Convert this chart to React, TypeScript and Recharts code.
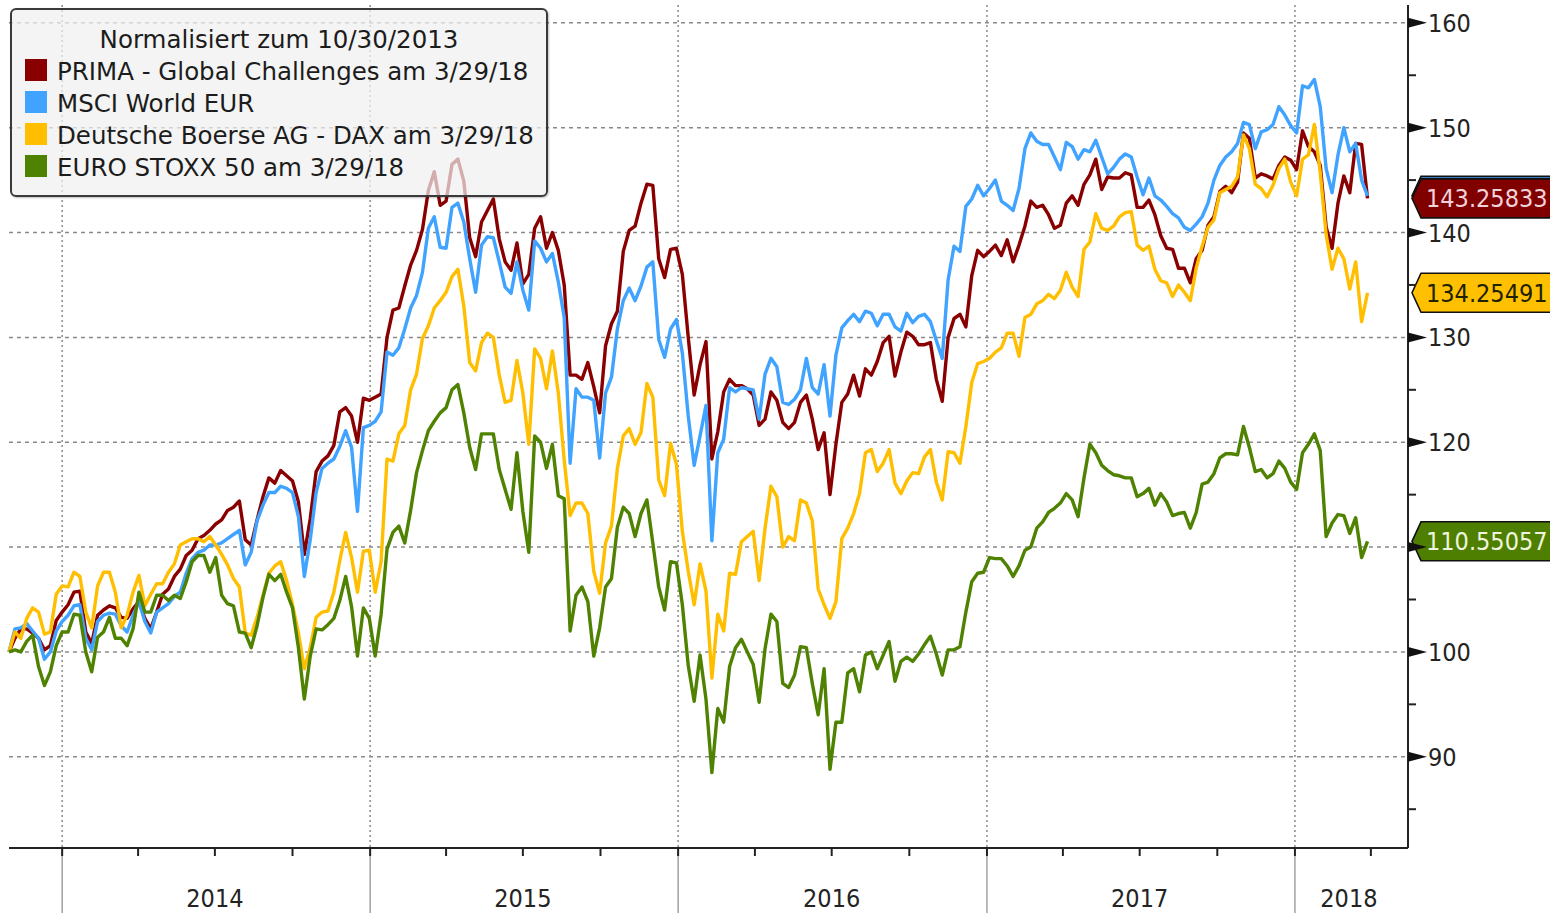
import React from "react";
import {
  LineChart,
  Line,
  XAxis,
  YAxis,
  CartesianGrid,
  ReferenceLine,
  Legend,
} from "recharts";

// one point every 7 days from the normalisation date 10/30/2013
const START = Date.UTC(2013, 9, 30);
const dayOf = (iso: string) => Math.round((Date.parse(iso) - START) / 86400000);
const STEP_DAYS = 7;

const prima = [
  100, 101.3, 102.2, 102.2, 101.8, 101.3, 100.2, 100.6, 103, 103.8, 104.5, 105.7, 105.8, 101.9, 100.8, 103.5, 104, 104.4, 104.2, 103.3,
  103.2, 104.1, 104.8, 103.2, 102.2, 103.8, 105.5, 106, 107.2, 107.9, 109.2, 109.7, 110.8, 111.1, 111.6, 112.2, 112.6, 113.5, 113.8, 114.4,
  110.7, 110.2, 112.6, 114.8, 116.6, 116.1, 117.3, 116.8, 116.3, 114.3, 109.3, 112.7, 117.2, 118.2, 118.7, 119.7, 122.9, 123.3, 122.5, 120,
  124.2, 124, 124.3, 124.6, 130, 132.6, 132.8, 134.9, 136.9, 138.3, 140.3, 144, 145.8, 142.6, 143, 146.5, 147, 144.9, 139.5, 137.7,
  141, 142.1, 143.2, 139.4, 137.2, 136.4, 139, 135.1, 136, 140.4, 141.5, 138.5, 140, 138.3, 135, 126.4, 126.4, 126, 127.6, 125.3,
  122.8, 129.2, 131.3, 132.5, 138.2, 140.2, 140.6, 142.8, 144.6, 144.5, 137.5, 135.7, 138.4, 138.5, 136, 130, 124.5, 127.4, 129.6, 118.4,
  121, 124.8, 126, 125.4, 125.4, 125.1, 124.5, 121.6, 122.2, 124.8, 124, 121.9, 121.3, 121.9, 123.8, 124.5, 122.2, 119.3, 120.9, 115,
  119.8, 123.8, 124.6, 126.4, 124.4, 127, 126.4, 127.7, 129.5, 130.1, 126.3, 128.6, 130.5, 130.1, 129.3, 129.3, 129.5, 126, 123.9, 130,
  131.8, 132.2, 131, 135.9, 138.3, 137.7, 138.2, 138.8, 137.8, 139.3, 137.2, 138.8, 140.6, 143, 142.4, 142.6, 141.7, 140.4, 140.7, 142.8,
  143.5, 142.6, 144.6, 145.5, 147, 144.1, 145.3, 145.2, 145.2, 145.7, 145.5, 142.4, 142.4, 143.1, 141.7, 139.7, 138.5, 138.4, 136.6, 136.6,
  135.2, 137.5, 138.3, 140.7, 141.5, 143.9, 144.4, 143.8, 144.8, 149.5, 149, 145.2, 145.6, 145.4, 145.1, 146.4, 147.2, 146.9, 146, 149.7,
  148.2, 147.7, 146.4, 140.5, 138.5, 142.8, 145.4, 143.8, 148.5, 148.4, 143.26,
];

const msci = [
  100, 102.2, 102.3, 102.7, 102, 101.3, 99.3, 100, 102, 102.9, 103.5, 104.4, 104.5, 101.3, 100.2, 102.9, 103.5, 103.7, 103.6, 102.5,
  101.9, 103.5, 104.8, 102.9, 101.8, 103.8, 104.2, 104.6, 105.3, 105.7, 107.5, 108.9, 109.5, 109.7, 110.2, 110.2, 110.4, 110.8, 111.2, 111.6,
  108.3, 109.5, 112.5, 114, 115.2, 115.2, 115.8, 115.6, 115.2, 112.9, 107.2, 110.7, 115.2, 117.5, 118, 118.4, 119.6, 121.1, 119.5, 113.4,
  121.4, 121.6, 122, 122.9, 128.6, 128.3, 129, 130.8, 132.8, 134, 136.2, 140.4, 141.5, 138.6, 138.5, 142.4, 142.8, 141, 137.5, 134.3,
  138.8, 139.6, 139.5, 137.2, 134.8, 134.2, 137.2, 134.5, 132.6, 139.2, 138.5, 137.2, 138, 135.3, 131.9, 118, 125.1, 124.3, 124.3, 124,
  118.5, 124.7, 126.2, 130.8, 133.5, 134.7, 133.5, 134.9, 136.7, 137.2, 129.8, 128.1, 130.8, 131.7, 128.5, 122.5, 117.8, 120.6, 123.5, 110.6,
  119, 120.3, 125.2, 124.8, 125.2, 125.1, 125, 122.2, 126.5, 128, 127.2, 123.8, 123.6, 124.1, 125, 128, 125.2, 124.6, 127.4, 122.5,
  128.3, 130.9, 131.6, 132.2, 131.5, 132.5, 132.3, 131.1, 132.2, 132.2, 131, 130.6, 132.3, 131.4, 132, 132.2, 131.5, 129.7, 128, 135.5,
  138.7, 138.2, 142.5, 143.2, 144.5, 143.5, 144.2, 145, 143, 142.6, 142.1, 144.2, 148, 149.5, 148.7, 148.4, 148.4, 147.2, 146, 148.6,
  148.2, 147, 147.9, 147.7, 148.8, 147.2, 145.6, 146.2, 147, 147.5, 147.2, 145.3, 143.6, 145.2, 143.5, 143.1, 142.5, 141.8, 141.4, 140.5,
  140.2, 140.8, 141.5, 142.8, 145, 146.4, 147.2, 147.7, 148.5, 150.5, 150.3, 148, 149.6, 149.8, 150.3, 152, 151.2, 150.2, 149.5, 154,
  153.8, 154.6, 152, 146.1, 143.8, 147.4, 150, 147.7, 148.5, 145, 143.5,
];

const dax = [
  100, 101.9, 101.3, 103.2, 104.2, 103.8, 101.7, 101.9, 105.5, 106.3, 106.2, 107.6, 107.2, 103.8, 102.3, 106.3, 107.6, 107.6, 105.7, 102.3,
  103.5, 105.7, 107.3, 104.4, 105.5, 106.5, 106.5, 107.6, 108.4, 110.2, 110.5, 110.8, 110.8, 110.5, 111, 110.2, 109.3, 108.3, 107, 106.2,
  101.8, 101.6, 103.3, 105.4, 107.5, 108.2, 108.6, 106.8, 104.5, 101.8, 98.4, 100.4, 103.3, 103.8, 103.9, 105.7, 108.7, 111.4, 109, 105.7,
  109.6, 109.7, 105.7, 108.6, 118.4, 118.2, 120.8, 121.6, 125, 126.5, 129.9, 131.1, 132.8, 133.5, 134.3, 135.8, 136.5, 133, 127.6, 126.8,
  129.5, 130.4, 130, 126.4, 123.8, 124, 127.8, 124.7, 119.8, 128.9, 128, 125.1, 128.7, 124.7, 118.3, 113, 114.2, 114.2, 113.2, 107.7,
  105.6, 110.4, 112, 117.5, 120.6, 121.3, 119.8, 120.9, 125.6, 124.3, 116.4, 114.9, 119.9, 117.9, 111.5, 107.7, 104.5, 108.4, 105.8, 97.5,
  103.6, 102, 107.5, 107.4, 110.5, 111, 111.5, 106.8, 111.8, 115.8, 114.8, 110, 111, 110.6, 114.5, 114.2, 112.5, 106, 104.5, 103.2,
  104.8, 110.8, 111.8, 113.2, 115.1, 119, 119.3, 117.2, 118, 119.3, 116.1, 115.1, 116.3, 117.1, 117, 118.6, 119.3, 116.2, 114.5, 119.1,
  119, 118, 121.5, 125.7, 127.5, 127.7, 128, 128.6, 129, 130.4, 130.4, 128.2, 131.9, 132.2, 133.2, 133.5, 134.1, 133.7, 134.5, 136.2,
  134.8, 133.9, 138.4, 139.1, 141.8, 140.4, 140.2, 140.6, 141.5, 141.9, 142, 138.8, 138.3, 138.7, 136.5, 135.4, 135.2, 133.9, 135, 134.3,
  133.5, 136.6, 138.7, 140.5, 141.2, 143.8, 144.1, 144.4, 145.3, 149.3, 148, 144.6, 144.2, 143.4, 144.5, 146.1, 147, 144.8, 143.5, 147,
  147.4, 150.3, 145.7, 139.8, 136.5, 138.5, 137.5, 134.6, 137.2, 131.5, 134.25,
];

const stoxx = [
  100, 100.2, 100, 101, 101.6, 98.6, 96.8, 98.1, 100.6, 101.9, 101.9, 103.6, 103.5, 100, 98.1, 101.4, 101.9, 103.3, 101.3, 101.3,
  100.6, 102.2, 105.7, 103.8, 103.8, 105.4, 105.4, 104.9, 105.4, 105.1, 106.7, 108.6, 109.2, 109.2, 107.6, 109, 105.4, 104.6, 104.4, 101.9,
  101.8, 100.4, 102.5, 105.2, 107.4, 106.8, 107.4, 105.7, 104.2, 100.4, 95.5, 99.6, 102.2, 102.1, 102.6, 103.2, 104.9, 107.2, 104.3, 99.6,
  104.2, 103.2, 99.6, 103.6, 109.8, 111.4, 112, 110.4, 113.5, 117.1, 119.2, 121.1, 122, 122.8, 123.3, 125, 125.5, 122.8, 119.5, 117.4,
  120.8, 120.8, 120.8, 117.4, 115.5, 113.6, 119, 113.4, 109.5, 120.6, 120, 117.5, 119.8, 114.9, 114.6, 102, 105.4, 106.2, 104.8, 99.6,
  102.3, 106.2, 107, 111.9, 113.8, 113.2, 111, 113.2, 114.5, 110.4, 106.2, 104, 108.6, 108.5, 104.5, 98.7, 95.3, 99.7, 95.5, 88.5,
  94.6, 93.3, 98.6, 100.4, 101.2, 100, 98.8, 95.2, 100.3, 103.6, 102.9, 97, 96.6, 97.8, 100.5, 100.4, 97, 94, 98.4, 88.8,
  93.3, 93.3, 98, 98.4, 96.2, 99.7, 100, 98.4, 99.7, 101, 97.2, 99.1, 99.5, 99.1, 99.8, 100.7, 101.5, 99.8, 97.8, 100.2,
  100.2, 100.5, 103.8, 106.7, 107.5, 107.6, 109, 108.9, 108.9, 108.2, 107.2, 108.2, 109.7, 110, 111.8, 112.4, 113.3, 113.7, 114.2, 115.1,
  114.5, 112.9, 116.6, 119.8, 119, 117.8, 117.3, 116.9, 116.8, 116.6, 116.6, 114.8, 115.1, 115.6, 114, 115.1, 114.3, 113, 113.2, 113.3,
  111.8, 113.3, 116, 116.2, 117, 118.5, 118.9, 118.9, 118.8, 121.5, 119.5, 117.2, 117.4, 116.6, 117, 118.2, 117.5, 116.2, 115.5, 119,
  119.8, 120.8, 119.2, 111, 112.3, 113.1, 113, 111.3, 112.8, 109, 110.55,
];

const seriesKeys = ["prima", "msci", "dax", "stoxx"];
const seriesNames = [
  "PRIMA - Global Challenges am 3/29/18",
  "MSCI World EUR",
  "Deutsche Boerse AG - DAX am 3/29/18",
  "EURO STOXX 50 am 3/29/18",
];
const seriesColors = ["#8a0000", "#3fa3ff", "#ffbf00", "#4e8200"];

// last-value tags on the right axis (the blue one sits under the red one)
const tagValues = [143.5, 143.25833, 134.25491, 110.55057];
const tagTexts = ["143.50000", "143.25833", "134.25491", "110.55057"];
const tagFills = ["#3fa3ff", "#800000", "#ffc000", "#4e7f00"];
const tagTextColors = ["#ffffff", "#f2d2da", "#1e2200", "#eef5dc"];

const legendTitle = "Normalisiert zum 10/30/2013";

const yTicks = [85, 90, 95, 100, 105, 110, 115, 120, 125, 130, 135, 140, 145, 150, 155, 160];
const yGrid = [90, 100, 110, 120, 130, 140, 150, 160];

const yearStarts = ["2014-01-01", "2015-01-01", "2016-01-01", "2017-01-01", "2018-01-01"].map(dayOf);
const quarterStarts = [
  "2014-04-01", "2014-07-01", "2014-10-01",
  "2015-04-01", "2015-07-01", "2015-10-01",
  "2016-04-01", "2016-07-01", "2016-10-01",
  "2017-04-01", "2017-07-01", "2017-10-01",
  "2018-04-01",
].map(dayOf);
const yearLabels = ["2014", "2015", "2016", "2017", "2018"];
const yearLabelDays = ["2014-07-01", "2015-07-01", "2016-07-01", "2017-07-01", "2018-03-06"].map(dayOf);
const xEnd = dayOf("2018-05-15");

const data = prima.map((v, i) => ({
  t: i * STEP_DAYS,
  prima: v,
  msci: msci[i],
  dax: dax[i],
  stoxx: stoxx[i],
}));

const FONT = "'DejaVu Sans Condensed', 'DejaVu Sans', sans-serif";
const LEGEND_FONT = "'DejaVu Sans', sans-serif";
const xTicks = Array.from(new Set([...yearStarts, ...quarterStarts, ...yearLabelDays])).sort((a, b) => a - b);

function XTick(props: any) {
  const { x, y, payload } = props;
  const v = payload.value;
  const li = yearLabelDays.indexOf(v);
  return (
    <g>
      {yearStarts.includes(v) && <line x1={x} x2={x} y1={y} y2={913} stroke="#8a8a8a" strokeWidth={1.2} />}
      {(yearStarts.includes(v) || quarterStarts.includes(v)) && (
        <line x1={x} x2={x} y1={y} y2={y + 8} stroke="#222" strokeWidth={2} />
      )}
      {li >= 0 && (
        <text x={x} y={y + 59} textAnchor="middle" fontSize={25} fill="#232323" fontFamily={FONT}>
          {yearLabels[li]}
        </text>
      )}
    </g>
  );
}

function YTick(props: any) {
  const { x, y, payload } = props;
  const v = payload.value;
  if (v % 10 !== 0) {
    return <line x1={x} x2={x + 8} y1={y} y2={y} stroke="#222" strokeWidth={2} />;
  }
  // a label that sits under a value tag is covered by it
  const covered = tagValues.some((t) => Math.abs(t - v) < 2);
  return (
    <g>
      <path d={`M${x},${y - 5} L${x + 19},${y} L${x},${y + 5} Z`} fill="#111" />
      {!covered && (
        <text x={x + 20} y={y + 9} fontSize={25} fill="#232323" fontFamily={FONT}>
          {v}
        </text>
      )}
    </g>
  );
}

function makeTag(i: number) {
  return (props: any) => {
    const vb = props.viewBox || {};
    const x0 = (vb.x || 0) + (vb.width || 0);
    const y = vb.y || 0;
    const h = 19.5;
    return (
      <g>
        <path
          d={`M${x0 + 4},${y} L${x0 + 13},${y - h} L${x0 + 150},${y - h} L${x0 + 150},${y + h} L${x0 + 13},${y + h} Z`}
          fill={tagFills[i]}
          stroke="#111"
          strokeWidth={1.6}
        />
        <text x={x0 + 18} y={y + 9} fontSize={25} fill={tagTextColors[i]} fontFamily={FONT}>
          {tagTexts[i]}
        </text>
      </g>
    );
  };
}

function LegendBox(props: any) {
  const items = props.payload || [];
  return (
    <div
      style={{
        width: 538,
        height: 189,
        boxSizing: "border-box",
        background: "rgba(240,240,240,0.72)",
        border: "2px solid #3a3a3a",
        borderRadius: 6,
        boxShadow: "1px 1px 2px rgba(0,0,0,0.25)",
        padding: "14px 0 0 13px",
        fontFamily: LEGEND_FONT,
        fontSize: 24.5,
        lineHeight: "32px",
        color: "#1c1c1c",
        whiteSpace: "nowrap",
      }}
    >
      <div style={{ textAlign: "center", marginLeft: -13 }}>{legendTitle}</div>
      {items.map((it: any) => (
        <div key={it.value} style={{ display: "flex", alignItems: "center", height: 32 }}>
          <span style={{ width: 22, height: 22, background: it.color, marginRight: 10, marginTop: -4 }} />
          <span>{it.value}</span>
        </div>
      ))}
    </div>
  );
}

export default function App() {
  return (
    <div style={{ position: "absolute", left: 0, top: 0, width: 1550, height: 913, background: "#fff" }}>
      <LineChart
        width={1550}
        height={913}
        data={data}
        margin={{ top: 5, right: 0, bottom: 0, left: 9 }}
        style={{ fontFamily: FONT }}
      >
        <CartesianGrid
          horizontal={true}
          vertical={false}
          horizontalValues={yGrid}
          stroke="#8a8a8a"
          strokeWidth={1.5}
          strokeDasharray="4 4"
        />
        <CartesianGrid
          horizontal={false}
          vertical={true}
          verticalValues={yearStarts}
          stroke="#8a8a8a"
          strokeWidth={1.5}
          strokeDasharray="2 3"
        />
        <XAxis
          dataKey="t"
          type="number"
          domain={[0, xEnd]}
          ticks={xTicks}
          interval={0}
          height={65}
          tickSize={0}
          tickMargin={0}
          tickLine={false}
          axisLine={{ stroke: "#222", strokeWidth: 2 }}
          tick={<XTick />}
        />
        <YAxis
          orientation="right"
          type="number"
          domain={[81.3, 161.7]}
          ticks={yTicks}
          interval={0}
          width={142}
          tickSize={0}
          tickMargin={0}
          tickLine={false}
          axisLine={{ stroke: "#222", strokeWidth: 2 }}
          tick={<YTick />}
        />
        {seriesKeys.map((k, i) => (
          <Line
            key={k}
            dataKey={k}
            name={seriesNames[i]}
            stroke={seriesColors[i]}
            strokeWidth={3.4}
            strokeLinejoin="round"
            dot={false}
            type="linear"
            isAnimationActive={false}
          />
        ))}
        {tagValues.map((v, i) => (
          <ReferenceLine key={i} y={v} stroke="none" ifOverflow="visible" label={makeTag(i)} />
        ))}
        <Legend
          layout="vertical"
          align="center"
          verticalAlign="middle"
          itemSorter={(item: any) => seriesNames.indexOf(item.value)}
          wrapperStyle={{ left: 10, top: 8, width: 538, height: 189 }}
          content={<LegendBox />}
        />
      </LineChart>
    </div>
  );
}
